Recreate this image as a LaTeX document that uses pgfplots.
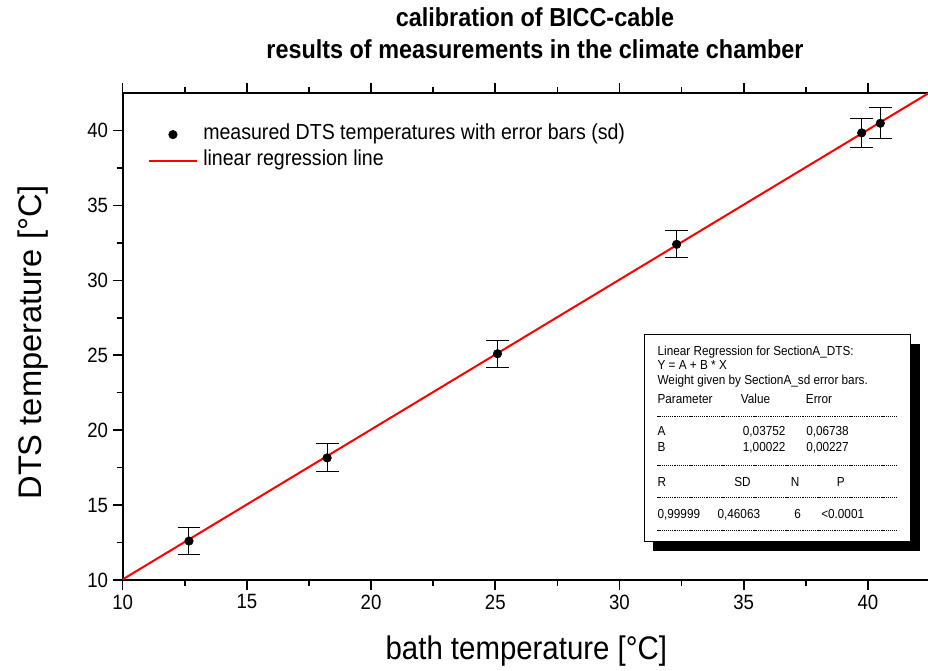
\documentclass[border=0pt]{standalone}
\usepackage{pgfplots}
\pgfplotsset{compat=1.18}
\usepackage{fontspec}
\setmainfont{Liberation Sans}[FakeStretch=0.9]
\newfontfamily\ylabfont{Liberation Sans}
\begin{document}
\begin{tikzpicture}
\useasboundingbox (0,0) rectangle (696pt,503.25pt);
\begin{axis}[
  at={(92pt,68.25pt)}, anchor=south west, scale only axis,
  width=605.5pt, height=365.25pt,
  xmin=10, xmax=42.5, ymin=10, ymax=42.5,
  xtick={10,15,...,40}, ytick={10,15,...,40},
  minor x tick num=1, minor y tick num=1,
  tick align=outside, xtick pos=both, ytick pos=left,
  major tick length=7.5pt, minor tick length=4.5pt,
  axis line style={line width=1.5pt},
  every tick/.append style={black, line width=1.2pt},
  tick label style={font=\fontsize{15.5}{18}\selectfont},
  /pgf/number format/assume math mode=true,
  xlabel={bath temperature [°C]}, ylabel={DTS temperature [°C]},
  xlabel style={font=\fontsize{24.5}{29}\selectfont, at={(axis description cs:0.5,-0.164)}, anchor=base},
  ylabel style={font=\ylabfont\fontsize{24.5}{29}\selectfont, at={(axis description cs:-0.1,0.488)}, anchor=base},
  legend style={at={(0.031,0.937)}, anchor=north west, draw=none, fill=none,
    inner sep=0pt, row sep=3.5pt, font=\fontsize{16.3}{19}\selectfont,
    nodes={inner xsep=4pt, inner ysep=0pt, text height=12pt, text depth=4pt}},
  legend cell align=left,
  legend image code/.code={\draw[mark repeat=2,mark phase=2,#1] plot coordinates {(0pt,0pt) (18pt,0pt) (36pt,0pt)};},
]
\addplot[only marks, mark=*, mark size=3.2pt, black,
  error bars/.cd, y dir=both, y explicit,
  error bar style={line width=0.75pt, black},
  error mark options={black, line width=0.75pt, mark size=8.6pt, rotate=90}]
  coordinates {
  (12.67,12.60) +- (0,0.88)
  (18.23,18.15) +- (0,0.93)
  (25.09,25.10) +- (0,0.91)
  (32.30,32.40) +- (0,0.90)
  (39.75,39.84) +- (0,0.97)
  (40.50,40.48) +- (0,1.05)
  };
\addlegendentry{measured DTS temperatures with error bars (sd)}
\addplot[red, line width=1.5pt, no marks] coordinates {(10,10.0397) (42.5,42.547)};
\addlegendentry{linear regression line}
\end{axis}
% title
\node[font=\bfseries\fontsize{19.5}{23}\selectfont, anchor=base] at (401.25pt,483pt) {calibration of BICC-cable};
\node[font=\bfseries\fontsize{19.5}{23}\selectfont, anchor=base] at (401.25pt,459pt) {results of measurements in the climate chamber};
% regression box
\fill[black] (489.75pt,245.5pt) rectangle (689.75pt,90pt);
\draw[fill=white, line width=0.75pt] (483pt,252.25pt) rectangle (683pt,96.75pt);
\begin{scope}[every node/.style={font=\fontsize{9.8}{12}\selectfont, anchor=base west, inner sep=0pt}]
\node at (493pt,236.5pt) {Linear Regression for SectionA\_DTS:};
\node at (493pt,225.75pt) {Y = A + B * X};
\node at (493pt,214.5pt) {Weight given by SectionA\_sd error bars.};
\node at (493pt,200.25pt) {Parameter};
\node at (555.5pt,200.25pt) {Value};
\node at (604.25pt,200.25pt) {Error};
\node at (493pt,176.25pt) {A};
\node at (557pt,176.25pt) {0,03752};
\node at (604.5pt,176.25pt) {0,06738};
\node at (493pt,164.5pt) {B};
\node at (557pt,164.5pt) {1,00022};
\node at (604.5pt,164.5pt) {0,00227};
\node at (493pt,138.25pt) {R};
\node at (550.5pt,138.25pt) {SD};
\node at (593pt,138.25pt) {N};
\node at (627.5pt,138.25pt) {P};
\node at (493pt,114.5pt) {0,99999};
\node at (538pt,114.5pt) {0,46063};
\node at (595.5pt,114.5pt) {6};
\node at (615.75pt,114.5pt) {<0.0001};
\end{scope}
\begin{scope}[line width=0.4pt, dash pattern=on 0.9pt off 0.7pt]
\draw (493pt,191.25pt) -- (673pt,191.25pt);
\draw (493pt,154.5pt) -- (673pt,154.5pt);
\draw (493pt,130pt) -- (673pt,130pt);
\draw (493pt,105.75pt) -- (673pt,105.75pt);
\end{scope}
\end{tikzpicture}
\end{document}
